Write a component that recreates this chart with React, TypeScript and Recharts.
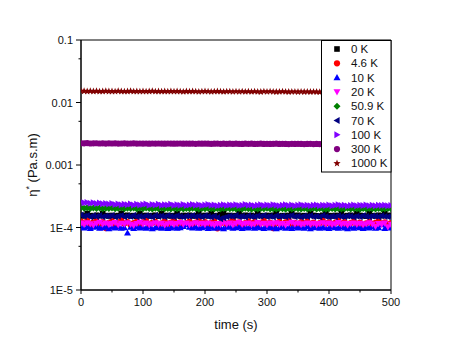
import React from 'react';
import { ScatterChart, Scatter, XAxis, YAxis, Legend, ReferenceArea } from 'recharts';

const FONT = '"Liberation Sans", Arial, sans-serif';

const times = [0,5,10,15,20,25,30,35,40,45,50,55,60,65,70,75,80,85,90,95,100,105,110,115,120,125,130,135,140,145,150,155,160,165,170,175,180,185,190,195,200,205,210,215,220,225,230,235,240,245,250,255,260,265,270,275,280,285,290,295,300,305,310,315,320,325,330,335,340,345,350,355,360,365,370,375,380,385,390,395,400,405,410,415,420,425,430,435,440,445,450,455,460,465,470,475,480,485,490,495,500];

const eta0K = [1.56e-4,1.53e-4,1.68e-4,1.55e-4,1.52e-4,1.57e-4,1.54e-4,1.67e-4,1.55e-4,1.53e-4,
1.56e-4,1.52e-4,1.55e-4,1.69e-4,1.54e-4,1.57e-4,1.53e-4,1.55e-4,1.52e-4,1.66e-4,
1.54e-4,1.56e-4,1.53e-4,1.55e-4,1.57e-4,1.52e-4,1.68e-4,1.54e-4,1.56e-4,1.53e-4,
1.55e-4,1.67e-4,1.52e-4,1.56e-4,1.54e-4,1.57e-4,1.53e-4,1.55e-4,1.69e-4,1.52e-4,
1.56e-4,1.54e-4,1.66e-4,1.53e-4,1.55e-4,1.62e-4,1.70e-4,1.54e-4,1.56e-4,1.52e-4,
1.55e-4,1.68e-4,1.53e-4,1.57e-4,1.54e-4,1.56e-4,1.52e-4,1.67e-4,1.55e-4,1.53e-4,
1.56e-4,1.54e-4,1.57e-4,1.69e-4,1.52e-4,1.55e-4,1.53e-4,1.56e-4,1.66e-4,1.54e-4,
1.57e-4,1.52e-4,1.55e-4,1.53e-4,1.68e-4,1.56e-4,1.54e-4,1.52e-4,1.57e-4,1.67e-4,
1.55e-4,1.53e-4,1.56e-4,1.54e-4,1.69e-4,1.52e-4,1.55e-4,1.57e-4,1.53e-4,1.66e-4,
1.56e-4,1.54e-4,1.52e-4,1.68e-4,1.55e-4,1.53e-4,1.57e-4,1.54e-4,1.67e-4,1.56e-4,
1.55e-4];

const eta4p6K = [1.24e-4,1.18e-4,1.29e-4,1.12e-4,1.21e-4,1.26e-4,1.15e-4,1.22e-4,0.98e-4,1.19e-4,
1.25e-4,1.13e-4,1.20e-4,1.30e-4,1.16e-4,1.22e-4,1.10e-4,1.18e-4,1.24e-4,1.14e-4,
1.21e-4,1.28e-4,1.12e-4,1.19e-4,1.23e-4,1.02e-4,1.17e-4,1.25e-4,1.13e-4,1.20e-4,
1.29e-4,1.15e-4,1.21e-4,1.11e-4,1.18e-4,1.24e-4,1.14e-4,1.20e-4,1.28e-4,1.16e-4,
1.22e-4,1.04e-4,1.19e-4,1.25e-4,0.97e-4,1.17e-4,1.23e-4,1.13e-4,1.20e-4,1.29e-4,
1.15e-4,1.21e-4,1.12e-4,1.18e-4,1.24e-4,1.16e-4,1.22e-4,1.08e-4,1.19e-4,1.27e-4,
1.14e-4,1.20e-4,0.98e-4,1.17e-4,1.23e-4,1.13e-4,1.21e-4,1.29e-4,1.15e-4,1.19e-4,
1.11e-4,1.22e-4,1.17e-4,1.24e-4,1.14e-4,1.20e-4,1.03e-4,1.18e-4,1.28e-4,1.16e-4,
1.21e-4,1.13e-4,1.19e-4,1.30e-4,1.15e-4,1.22e-4,1.06e-4,1.18e-4,1.24e-4,1.14e-4,
1.20e-4,0.99e-4,1.17e-4,1.23e-4,1.13e-4,1.19e-4,1.27e-4,1.15e-4,1.21e-4,1.12e-4,
1.18e-4];

const eta10K = [1.03e-4,0.99e-4,1.02e-4,0.97e-4,1.01e-4,1.04e-4,0.98e-4,1.00e-4,1.03e-4,0.96e-4,
1.01e-4,0.99e-4,1.02e-4,0.98e-4,1.00e-4,0.82e-4,1.01e-4,0.97e-4,1.03e-4,0.99e-4,
1.01e-4,0.98e-4,1.02e-4,0.96e-4,1.00e-4,1.03e-4,0.98e-4,1.01e-4,0.97e-4,0.99e-4,
1.02e-4,0.98e-4,1.00e-4,1.04e-4,1.11e-4,1.01e-4,0.99e-4,1.02e-4,0.98e-4,1.00e-4,
1.03e-4,0.97e-4,1.01e-4,0.98e-4,1.02e-4,0.99e-4,0.96e-4,1.01e-4,1.03e-4,0.98e-4,
1.00e-4,1.02e-4,0.97e-4,1.01e-4,0.99e-4,1.03e-4,0.98e-4,1.01e-4,1.00e-4,0.97e-4,
1.02e-4,0.99e-4,1.01e-4,0.96e-4,1.00e-4,1.03e-4,0.98e-4,1.01e-4,0.97e-4,1.02e-4,
0.99e-4,1.01e-4,0.98e-4,1.03e-4,0.96e-4,1.00e-4,1.02e-4,0.98e-4,1.01e-4,0.99e-4,
0.97e-4,1.02e-4,1.00e-4,0.98e-4,1.03e-4,0.99e-4,0.96e-4,1.01e-4,0.98e-4,1.02e-4,
1.00e-4,0.97e-4,1.01e-4,0.99e-4,1.03e-4,0.98e-4,1.00e-4,1.11e-4,0.97e-4,1.01e-4,
0.99e-4];

const eta20K = [1.17e-4,1.12e-4,1.19e-4,1.14e-4,1.09e-4,1.16e-4,1.21e-4,1.13e-4,1.18e-4,1.11e-4,
1.15e-4,1.20e-4,1.10e-4,1.16e-4,1.13e-4,1.19e-4,1.12e-4,1.08e-4,1.15e-4,1.21e-4,
1.13e-4,1.17e-4,1.10e-4,1.14e-4,1.19e-4,1.12e-4,1.16e-4,1.09e-4,1.14e-4,1.18e-4,
1.11e-4,1.15e-4,1.20e-4,1.12e-4,1.17e-4,1.10e-4,1.14e-4,1.19e-4,1.13e-4,1.16e-4,
1.11e-4,1.18e-4,1.14e-4,1.09e-4,1.15e-4,1.12e-4,1.19e-4,1.13e-4,1.17e-4,1.10e-4,
1.16e-4,1.21e-4,1.12e-4,1.15e-4,1.18e-4,1.11e-4,1.14e-4,1.20e-4,1.13e-4,1.16e-4,
1.10e-4,1.17e-4,1.13e-4,1.19e-4,1.12e-4,1.15e-4,1.09e-4,1.16e-4,1.21e-4,1.13e-4,
1.17e-4,1.11e-4,1.14e-4,1.18e-4,1.12e-4,1.16e-4,1.10e-4,1.15e-4,1.19e-4,1.13e-4,
1.17e-4,1.11e-4,1.14e-4,1.20e-4,1.12e-4,1.16e-4,1.09e-4,1.15e-4,1.18e-4,1.12e-4,
1.16e-4,1.10e-4,1.14e-4,1.19e-4,1.13e-4,1.04e-4,1.15e-4,1.11e-4,1.17e-4,1.02e-4,
1.12e-4];

const eta50p9K = [2.09e-4,2.04e-4,2.07e-4,2.01e-4,2.06e-4,2.02e-4,2.05e-4,1.99e-4,2.04e-4,2.01e-4,
2.06e-4,2.00e-4,2.03e-4,2.07e-4,1.99e-4,2.04e-4,2.01e-4,2.05e-4,1.98e-4,2.03e-4,
2.00e-4,2.06e-4,2.01e-4,1.97e-4,2.03e-4,2.00e-4,2.05e-4,1.99e-4,2.02e-4,1.98e-4,
2.04e-4,2.00e-4,2.03e-4,1.97e-4,2.02e-4,1.99e-4,2.04e-4,2.01e-4,1.96e-4,2.02e-4,
1.99e-4,2.03e-4,2.00e-4,1.97e-4,2.02e-4,1.98e-4,2.01e-4,2.04e-4,1.99e-4,2.02e-4,
1.97e-4,2.01e-4,1.98e-4,2.03e-4,1.99e-4,1.96e-4,2.01e-4,1.98e-4,2.02e-4,1.99e-4,
2.03e-4,1.97e-4,2.00e-4,1.98e-4,2.02e-4,1.99e-4,1.96e-4,2.01e-4,1.98e-4,2.03e-4,
1.99e-4,1.97e-4,2.01e-4,1.98e-4,2.00e-4,2.03e-4,1.97e-4,2.01e-4,1.99e-4,1.96e-4,
2.00e-4,2.02e-4,1.98e-4,2.01e-4,1.97e-4,2.00e-4,2.03e-4,1.98e-4,2.01e-4,1.99e-4,
1.96e-4,2.01e-4,1.98e-4,2.02e-4,1.99e-4,1.97e-4,2.01e-4,1.98e-4,2.00e-4,2.02e-4,
1.99e-4];

const eta70K = [1.58e-4,1.52e-4,1.55e-4,1.49e-4,1.54e-4,1.50e-4,1.56e-4,1.48e-4,1.53e-4,1.51e-4,
1.55e-4,1.47e-4,1.52e-4,1.56e-4,1.49e-4,1.53e-4,1.50e-4,1.57e-4,1.48e-4,1.52e-4,
1.49e-4,1.54e-4,1.51e-4,1.47e-4,1.55e-4,1.50e-4,1.53e-4,1.48e-4,1.56e-4,1.51e-4,
1.49e-4,1.54e-4,1.50e-4,1.47e-4,1.53e-4,1.51e-4,1.55e-4,1.48e-4,1.52e-4,1.49e-4,
1.54e-4,1.50e-4,1.47e-4,1.52e-4,1.44e-4,1.38e-4,1.43e-4,1.48e-4,1.53e-4,1.50e-4,
1.55e-4,1.49e-4,1.52e-4,1.47e-4,1.54e-4,1.50e-4,1.48e-4,1.53e-4,1.51e-4,1.56e-4,
1.49e-4,1.52e-4,1.47e-4,1.54e-4,1.50e-4,1.53e-4,1.48e-4,1.51e-4,1.55e-4,1.49e-4,
1.52e-4,1.47e-4,1.53e-4,1.50e-4,1.54e-4,1.48e-4,1.51e-4,1.49e-4,1.55e-4,1.50e-4,
1.47e-4,1.52e-4,1.49e-4,1.54e-4,1.50e-4,1.48e-4,1.53e-4,1.51e-4,1.47e-4,1.52e-4,
1.49e-4,1.55e-4,1.50e-4,1.48e-4,1.53e-4,1.51e-4,1.49e-4,1.54e-4,1.50e-4,1.48e-4,
1.52e-4];

const eta100K = [2.55e-4,2.48e-4,2.52e-4,2.45e-4,2.49e-4,2.42e-4,2.46e-4,2.40e-4,2.43e-4,2.37e-4,
2.41e-4,2.34e-4,2.38e-4,2.32e-4,2.36e-4,2.31e-4,2.37e-4,2.30e-4,2.35e-4,2.29e-4,
2.34e-4,2.38e-4,2.28e-4,2.33e-4,2.30e-4,2.36e-4,2.27e-4,2.32e-4,2.29e-4,2.35e-4,
2.26e-4,2.31e-4,2.28e-4,2.34e-4,2.25e-4,2.30e-4,2.33e-4,2.27e-4,2.31e-4,2.24e-4,
2.29e-4,2.34e-4,2.26e-4,2.30e-4,2.23e-4,2.28e-4,2.32e-4,2.25e-4,2.29e-4,2.27e-4,
2.31e-4,2.24e-4,2.28e-4,2.33e-4,2.26e-4,2.30e-4,2.23e-4,2.27e-4,2.32e-4,2.25e-4,
2.29e-4,2.24e-4,2.31e-4,2.26e-4,2.22e-4,2.28e-4,2.32e-4,2.25e-4,2.29e-4,2.23e-4,
2.27e-4,2.31e-4,2.24e-4,2.28e-4,2.22e-4,2.26e-4,2.30e-4,2.23e-4,2.27e-4,2.25e-4,
2.29e-4,2.22e-4,2.26e-4,2.31e-4,2.24e-4,2.28e-4,2.21e-4,2.25e-4,2.29e-4,2.23e-4,
2.27e-4,2.24e-4,2.30e-4,2.22e-4,2.26e-4,2.23e-4,2.28e-4,2.24e-4,2.27e-4,2.22e-4,
2.25e-4];

const eta300K = [0.00223,0.00222,0.00224,0.00221,0.00222,0.00223,0.00221,0.00222,0.00220,0.00222,
0.00221,0.00222,0.00220,0.00221,0.00222,0.00220,0.00221,0.00222,0.00220,0.00221,
0.00220,0.00221,0.00219,0.00221,0.00220,0.00221,0.00220,0.00219,0.00221,0.00220,
0.00219,0.00220,0.00221,0.00219,0.00220,0.00219,0.00220,0.00218,0.00220,0.00219,
0.00220,0.00219,0.00218,0.00219,0.00220,0.00218,0.00219,0.00218,0.00219,0.00218,
0.00219,0.00218,0.00217,0.00219,0.00218,0.00219,0.00217,0.00218,0.00219,0.00217,
0.00218,0.00217,0.00218,0.00219,0.00217,0.00218,0.00217,0.00216,0.00218,0.00217,
0.00218,0.00217,0.00216,0.00217,0.00218,0.00216,0.00217,0.00216,0.00217,0.00216,
0.00217,0.00216,0.00215,0.00217,0.00216,0.00217,0.00215,0.00216,0.00217,0.00215,
0.00216,0.00215,0.00216,0.00215,0.00214,0.00216,0.00215,0.00214,0.00215,0.00216,
0.00215];

const eta1000K = [0.0153,0.0152,0.0151,0.0152,0.0151,0.0152,0.0150,0.0151,0.0152,0.0151,
0.0151,0.0150,0.0152,0.0151,0.0150,0.0151,0.0152,0.0150,0.0151,0.0150,
0.0151,0.0150,0.0151,0.0152,0.0150,0.0151,0.0150,0.0151,0.0150,0.0151,
0.0150,0.0151,0.0150,0.0149,0.0151,0.0150,0.0151,0.0150,0.0149,0.0150,
0.0151,0.0150,0.0149,0.0150,0.0151,0.0150,0.0149,0.0150,0.0150,0.0149,
0.0150,0.0149,0.0150,0.0149,0.0150,0.0149,0.0150,0.0149,0.0148,0.0150,
0.0149,0.0150,0.0149,0.0148,0.0149,0.0150,0.0149,0.0148,0.0149,0.0149,
0.0148,0.0149,0.0148,0.0149,0.0148,0.0149,0.0148,0.0147,0.0149,0.0148,
0.0148,0.0147,0.0148,0.0149,0.0148,0.0147,0.0148,0.0147,0.0148,0.0147,
0.0147,0.0148,0.0147,0.0148,0.0147,0.0146,0.0147,0.0148,0.0147,0.0146,
0.0147];

const seriesNames = ['0 K', '4.6 K', '10 K', '20 K', '50.9 K', '70 K', '100 K', '300 K', '1000 K'];
const seriesColors = ['#000000', '#FF0000', '#0000FF', '#FF00FF', '#008000', '#000080', '#8000FF', '#800080', '#800000'];
const seriesShapes = ['square', 'circle', 'up', 'down', 'diamond', 'left', 'right', 'circle', 'star'];
const seriesValues = [eta0K, eta4p6K, eta10K, eta20K, eta50p9K, eta70K, eta100K, eta300K, eta1000K];

const yTicks = [1e-5, 5e-5, 1e-4, 5e-4, 1e-3, 5e-3, 1e-2, 5e-2, 1e-1];
const yMajorLabels: Record<string, string> = { '0.00001': '1E-5', '0.0001': '1E-4', '0.001': '0.001', '0.01': '0.01', '0.1': '0.1' };
const xTicks = [0, 50, 100, 150, 200, 250, 300, 350, 400, 450, 500];

const tables = seriesValues.map((vals) => times.map((t, i) => ({ t, v: vals[i] })));

function Marker({ cx, cy, kind, color }: { cx: number; cy: number; kind: string; color: string }) {
  if (cx == null || cy == null || isNaN(cx) || isNaN(cy)) return null;
  const s = 3.5;
  switch (kind) {
    case 'square':
      return <rect x={cx - 2.8} y={cy - 2.8} width={5.6} height={5.6} fill={color} />;
    case 'circle':
      return <circle cx={cx} cy={cy} r={3.1} fill={color} />;
    case 'up':
      return <polygon points={`${cx},${cy - s} ${cx + s},${cy + s * 0.75} ${cx - s},${cy + s * 0.75}`} fill={color} />;
    case 'down':
      return <polygon points={`${cx},${cy + s} ${cx + s},${cy - s * 0.75} ${cx - s},${cy - s * 0.75}`} fill={color} />;
    case 'left':
      return <polygon points={`${cx - s},${cy} ${cx + s * 0.75},${cy - s} ${cx + s * 0.75},${cy + s}`} fill={color} />;
    case 'right':
      return <polygon points={`${cx + s},${cy} ${cx - s * 0.75},${cy - s} ${cx - s * 0.75},${cy + s}`} fill={color} />;
    case 'diamond':
      return <polygon points={`${cx},${cy - s} ${cx + s},${cy} ${cx},${cy + s} ${cx - s},${cy}`} fill={color} />;
    case 'star': {
      const pts: string[] = [];
      for (let k = 0; k < 10; k++) {
        const r = k % 2 === 0 ? 3.8 : 1.6;
        const a = -Math.PI / 2 + (k * Math.PI) / 5;
        pts.push(`${cx + r * Math.cos(a)},${cy + r * Math.sin(a)}`);
      }
      return <polygon points={pts.join(' ')} fill={color} />;
    }
    default:
      return null;
  }
}

const isMajorY = (v: number) => Math.abs(Math.log10(v) - Math.round(Math.log10(v))) < 1e-6;

function LeftTick(props: any) {
  const { x, y, payload } = props;
  const v = payload.value;
  const major = isMajorY(v);
  return (
    <g>
      <line x1={x - (major ? 5 : 2.5)} x2={x} y1={y} y2={y} stroke="#000" strokeWidth={1} />
      {major && (
        <text x={x - 8} y={y + 4} textAnchor="end" fontSize={11} fontFamily={FONT} fill="#111">
          {yMajorLabels[String(v)] ?? String(v)}
        </text>
      )}
    </g>
  );
}

function RightTick(props: any) {
  const { x, y, payload } = props;
  const major = isMajorY(payload.value);
  return <line x1={x - (major ? 4 : 2.5)} x2={x} y1={y} y2={y} stroke="#000" strokeWidth={1} />;
}

function BottomTick(props: any) {
  const { x, y, payload } = props;
  const v = payload.value;
  const major = v % 100 === 0;
  return (
    <g>
      <line x1={x} x2={x} y1={y} y2={y + (major ? 4 : 2.5)} stroke="#000" strokeWidth={1} />
      {major && (
        <text x={x} y={y + 16} textAnchor="middle" fontSize={11} fontFamily={FONT} fill="#111">
          {v}
        </text>
      )}
    </g>
  );
}

function LegendBox() {
  return (
    <svg width={71} height={133} style={{ display: 'block' }}>
      <rect x={0.5} y={0.5} width={69.5} height={131.5} fill="#fff" stroke="#000" strokeWidth={1} />
      {seriesNames.map((n, i) => {
        const cy = 9 + i * 14.3;
        return (
          <g key={n}>
            <Marker cx={16} cy={cy} kind={seriesShapes[i]} color={seriesColors[i]} />
            <text x={30} y={cy + 4} fontSize={11.5} fontFamily={FONT} fill="#111">
              {n}
            </text>
          </g>
        );
      })}
    </svg>
  );
}

function YTitle() {
  return (
    <text x={37} y={165} transform="rotate(-90, 37, 165)" textAnchor="middle" fontSize={13} fontFamily={FONT} fill="#111">
      η<tspan dy={-5} fontSize={9}>*</tspan>
      <tspan dy={5}> (Pa.s.m)</tspan>
    </text>
  );
}

export default function App() {
  return (
    <div style={{ position: 'absolute', left: 0, top: 0, background: '#fff' }}>
      <ScatterChart width={456} height={351} margin={{ top: 40, right: 65, bottom: 0, left: 0 }}>
        <XAxis
          dataKey="t"
          type="number"
          domain={[0, 500]}
          ticks={xTicks}
          interval={0}
          height={61}
          tickSize={0}
          tickMargin={0}
          tickLine={false}
          tick={<BottomTick />}
          axisLine={{ stroke: '#000' }}
          allowDataOverflow
          label={{ value: 'time (s)', position: 'insideBottom', offset: 22, fontSize: 13, fontFamily: FONT, fill: '#111' }}
        />
        <YAxis
          dataKey="v"
          type="number"
          scale="log"
          domain={[1e-5, 0.1]}
          ticks={yTicks}
          interval={0}
          width={81}
          tickSize={0}
          tickMargin={0}
          tickLine={false}
          tick={<LeftTick />}
          axisLine={{ stroke: '#000' }}
          allowDataOverflow
          label={<YTitle />}
        />
        <YAxis
          yAxisId="r"
          orientation="right"
          type="number"
          scale="log"
          domain={[1e-5, 0.1]}
          ticks={yTicks}
          interval={0}
          width={0}
          tickSize={0}
          tickMargin={0}
          tickLine={false}
          tick={<RightTick />}
          axisLine={{ stroke: '#000' }}
          allowDataOverflow
        />
        <ReferenceArea x1={0} x2={500} y1={1e-5} y2={0.1} fill="none" stroke="#000" strokeWidth={1} ifOverflow="visible" />
        {tables.map((d, i) => (
          <Scatter
            key={seriesNames[i]}
            name={seriesNames[i]}
            data={d}
            dataKey="v"
            fill={seriesColors[i]}
            isAnimationActive={false}
            shape={(p: any) => <Marker cx={p.cx} cy={p.cy} kind={seriesShapes[i]} color={seriesColors[i]} />}
          />
        ))}
        <Legend
          layout="vertical"
          align="center"
          verticalAlign="middle"
          content={() => <LegendBox />}
          wrapperStyle={{ left: 321, top: 40, width: 71, height: 133, margin: 0, padding: 0 }}
        />
      </ScatterChart>
    </div>
  );
}
